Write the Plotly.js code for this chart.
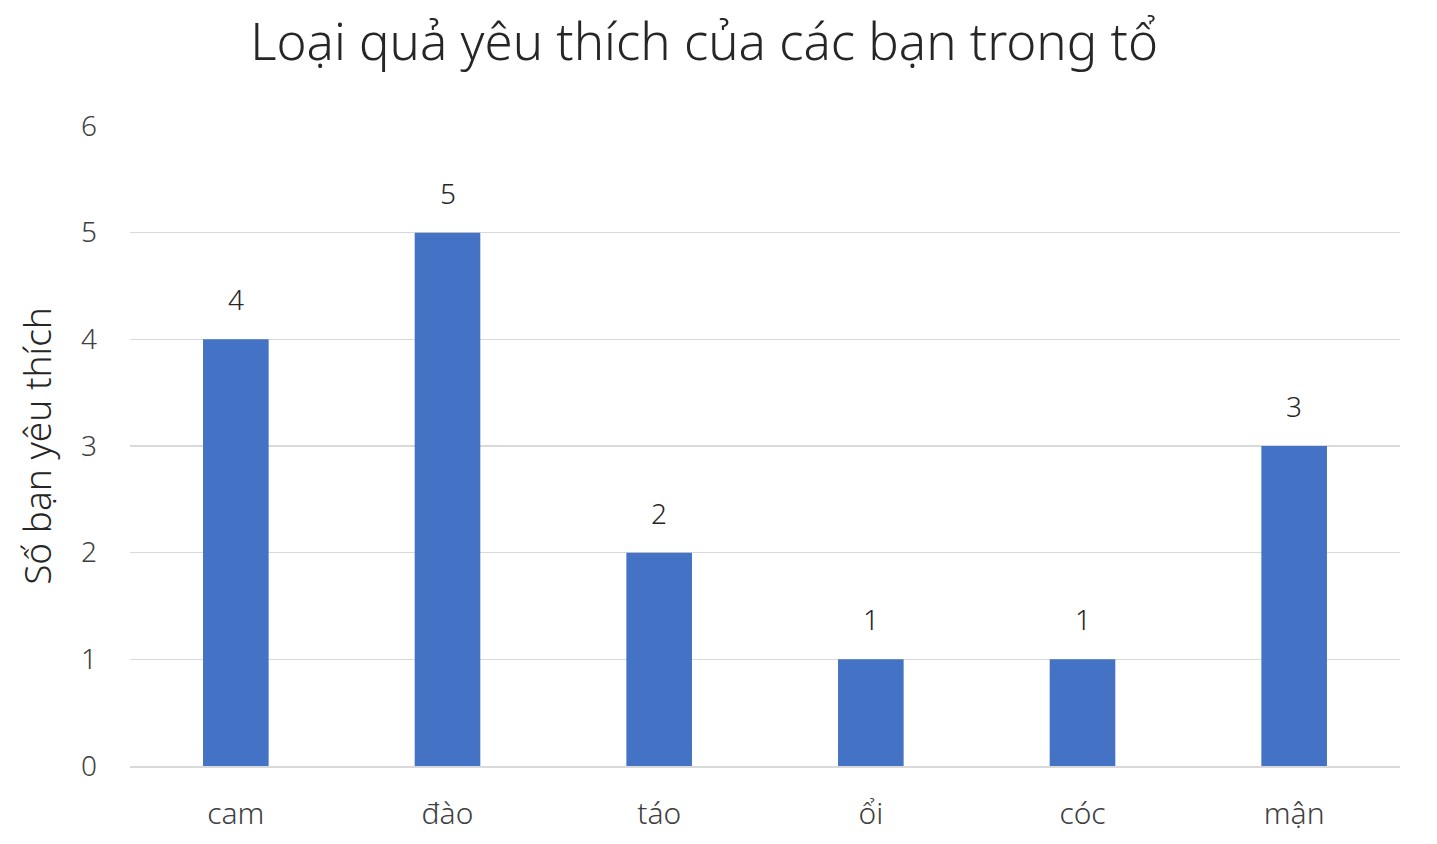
<!DOCTYPE html>
<html>
<head>
<meta charset="utf-8">
<script src="https://cdn.plot.ly/plotly-3.0.1.min.js"></script>
<style>html,body{margin:0;padding:0;background:#fff;}#chart{width:1437px;height:844px;}</style>
</head>
<body>
<div id="chart"></div>
<script>
const categories = ["cam", "đào", "táo", "ổi", "cóc", "mận"];
const values = [4, 5, 2, 1, 1, 3];
const yTicks = [0, 1, 2, 3, 4, 5, 6];
const chartTitle = "Loại quả yêu thích của các bạn trong tổ";
const yTitle = "Số bạn yêu thích";

const FONT = "Noto Sans, Open Sans, sans-serif";

const trace = {
  type: "bar",
  x: categories,
  y: values,
  marker: { color: "#4472C4" },
  hoverinfo: "x+y"
};

const annotations = categories.map((c, i) => ({
  x: c, y: values[i], xref: "x", yref: "y",
  text: String(values[i]), showarrow: false,
  yanchor: "bottom", yshift: 19,
  font: { family: FONT, size: 28, color: "#262626", weight: 350 }
}));

const layout = {
  width: 1437, height: 844,
  margin: { l: 130, r: 37, t: 126, b: 78 },
  paper_bgcolor: "#fff", plot_bgcolor: "#fff",
  bargap: 0.69,
  showlegend: false,
  title: {
    text: chartTitle,
    x: 0.49, xanchor: "center",
    y: 0.95, yanchor: "middle",
    font: { family: FONT, size: 51, color: "#262626", weight: 300 }
  },
  xaxis: {
    type: "category",
    showgrid: false,
    showline: true, linecolor: "#d9d9d9", linewidth: 1.5,
    ticks: "",
    ticklabelstandoff: 20,
    tickfont: { family: FONT, size: 30, color: "#404040", weight: 350 },
    zeroline: false
  },
  yaxis: {
    range: [0, 6],
    tickvals: yTicks,
    ticktext: yTicks.map(String),
    showgrid: true, gridcolor: "#d9d9d9", gridwidth: 1.5,
    zeroline: false, showline: false,
    ticks: "",
    ticklabelstandoff: 32,
    tickfont: { family: FONT, size: 28, color: "#404040", weight: 350 },
    title: {
      text: yTitle,
      standoff: 18,
      font: { family: FONT, size: 37, color: "#262626", weight: 300 }
    }
  },
  annotations: annotations
};

Plotly.newPlot("chart", [trace], layout, { displayModeBar: false, staticPlot: true });
</script>
</body>
</html>
